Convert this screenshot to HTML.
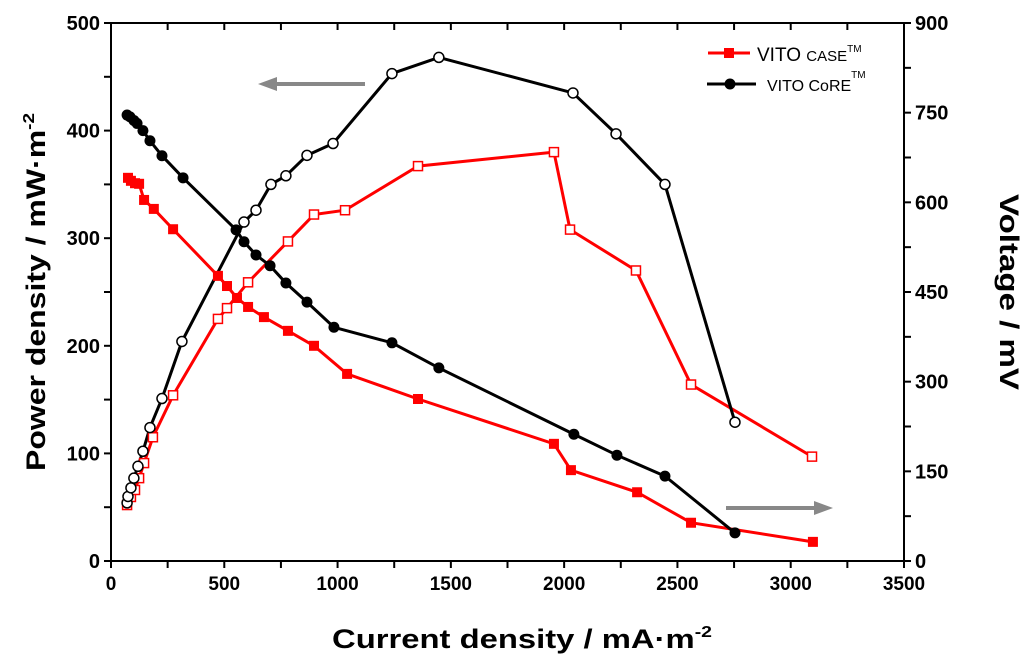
<!DOCTYPE html>
<html><head><meta charset="utf-8"><style>
html,body{margin:0;padding:0;background:#fff;}
svg{display:block;font-family:"Liberation Sans",sans-serif;}
</style></head><body>
<svg id="chart" width="1024" height="666" viewBox="0 0 1024 666" xmlns="http://www.w3.org/2000/svg">
<g id="axes"></g>
<g id="series"></g>
<g>
  <line x1="708" y1="53" x2="750" y2="53" stroke="#f00" stroke-width="3"/>
  <rect x="724" y="48" width="10" height="10" fill="#f00"/>
  <text x="757" y="61" font-size="19" fill="#000">VITO <tspan font-size="15">CASE</tspan><tspan font-size="10" dy="-9">TM</tspan></text>
  <line x1="707" y1="84" x2="756" y2="84" stroke="#000" stroke-width="3"/>
  <circle cx="730" cy="84" r="5.5" fill="#000"/>
  <text x="767" y="91" font-size="16" fill="#000">VITO CoRE<tspan font-size="10" dy="-13">TM</tspan></text>
</g>
<g>
  <line x1="365" y1="84" x2="272" y2="84" stroke="#888" stroke-width="4"/>
  <polygon points="258,84 277,77 277,91" fill="#888"/>
</g>
<g>
  <line x1="726" y1="508" x2="818" y2="508" stroke="#888" stroke-width="4"/>
  <polygon points="833,508 814,501 814,515" fill="#888"/>
</g>
<text x="522" y="648" text-anchor="middle" font-size="27" font-weight="bold" textLength="380" lengthAdjust="spacingAndGlyphs">Current density / mA·m<tspan font-size="16" dy="-11">-2</tspan></text>
<text transform="translate(45,292) rotate(-90)" text-anchor="middle" font-size="27" font-weight="bold" textLength="358" lengthAdjust="spacingAndGlyphs">Power density / mW·m<tspan font-size="16" dy="-11">-2</tspan></text>
<text transform="translate(1000,292) rotate(90)" text-anchor="middle" font-size="27" font-weight="bold" textLength="196" lengthAdjust="spacingAndGlyphs">Voltage / mV</text>
</svg>
<script>
const xTicks = [0,500,1000,1500,2000,2500,3000,3500];
const pTicks = [0,100,200,300,400,500];
const vTicks = [0,150,300,450,600,750,900];
const caseX = [71,88,106,124,146,185,274,472,512,605,781,896,1033,1355,1955,2026,2317,2560,3094];
const casePower = [52,59.5,66,77,91,115,154,225,235,259,297,322,326,367,380,308,270,164,97];
const caseVX = [75,88,106,124,146,189,274,472,512,556,605,675,781,896,1042,1355,1955,2030,2322,2560,3098];
const caseVoltage = [641,636,632,631,604,589,555,477,460,440,425,408,385,360,313,271,196,152,115,64,32];
const coreX = [71,75,88,101,119,141,172,225,313,587,640,706,772,865,980,1240,1447,2039,2229,2445,2754];
const corePower = [54,60,68,77,88,102,124,151,204,315,326,350,358,377,388,453,468,435,397,350,129];
const coreVX = [71,84,101,115,141,172,225,318,552,587,640,702,772,865,984,1240,1447,2043,2233,2445,2754];
const coreVoltage = [746,743,737,732,720,703,678,641,554,534,512,494,465,433,391,365,323,212,177,142,47];

const X0=111,X1=904,Y0=561,Y1=23;
const sx=v=>X0+(v/3500)*(X1-X0);
const sp=v=>Y0-(v/500)*(Y0-Y1);
const sv=v=>Y0-(v/900)*(Y0-Y1);
const NS='http://www.w3.org/2000/svg';
function mk(tag,attrs,parent){const e=document.createElementNS(NS,tag);for(const k in attrs)e.setAttribute(k,attrs[k]);parent.appendChild(e);return e;}
const axes=document.getElementById('axes');
const frame=mk('rect',{x:X0,y:Y1,width:X1-X0,height:Y0-Y1,fill:'none',stroke:'#000','stroke-width':2},axes);


for(let v=0;v<=3500;v+=250){
  const x=sx(v);
  const t=mk('line',{x1:x,y1:Y0,x2:x,y2:Y0+7,stroke:'#000','stroke-width':2},axes);
  
  
  const t2=mk('line',{x1:x,y1:Y1,x2:x,y2:Y1+7,stroke:'#000','stroke-width':2},axes);
  
  
}
xTicks.forEach(v=>{
  const t=mk('text',{x:sx(v),y:Y0+29,'text-anchor':'middle','font-size':19,'font-weight':'bold'},axes);
  t.textContent=v;
  
  
});
for(let v=0;v<=500;v+=50){
  const t=mk('line',{x1:X0-7,y1:sp(v),x2:X0,y2:sp(v),stroke:'#000','stroke-width':2},axes);
  
  
}
pTicks.forEach(v=>{
  const t=mk('text',{x:X0-11,y:sp(v)+7,'text-anchor':'end','font-size':20,'font-weight':'bold'},axes);
  t.textContent=v;
  
  
});
for(let v=0;v<=900;v+=75){
  const t=mk('line',{x1:X1,y1:sv(v),x2:X1+7,y2:sv(v),stroke:'#000','stroke-width':2},axes);
  
  
}
vTicks.forEach(v=>{
  const t=mk('text',{x:X1+11,y:sv(v)+7,'text-anchor':'start','font-size':20,'font-weight':'bold'},axes);
  t.textContent=v;
  
  
});
const ser=document.getElementById('series');
function line(xs,ys,sy,color,name){
  const p=mk('polyline',{points:xs.map((x,i)=>sx(x)+','+sy(ys[i])).join(' '),fill:'none',stroke:color,'stroke-width':3},ser);
  
  
}
line(caseX,casePower,sp,'#f00','case-power-line');
line(caseVX,caseVoltage,sv,'#f00','case-voltage-line');
line(coreX,corePower,sp,'#000','core-power-line');
line(coreVX,coreVoltage,sv,'#000','core-voltage-line');
caseX.forEach((x,i)=>{
  const r=mk('rect',{x:sx(x)-4.5,y:sp(casePower[i])-4.5,width:9,height:9,fill:'#fff',stroke:'#f00','stroke-width':1.5},ser);
  
  
});
caseVX.forEach((x,i)=>{
  const r=mk('rect',{x:sx(x)-5,y:sv(caseVoltage[i])-5,width:10,height:10,fill:'#f00'},ser);
  
  
});
coreX.forEach((x,i)=>{
  const c=mk('circle',{cx:sx(x),cy:sp(corePower[i]),r:5,fill:'#fff',stroke:'#000','stroke-width':1.5},ser);
  
  
});
coreVX.forEach((x,i)=>{
  const c=mk('circle',{cx:sx(x),cy:sv(coreVoltage[i]),r:5.5,fill:'#000'},ser);
  
  
});
</script>
</body></html>
